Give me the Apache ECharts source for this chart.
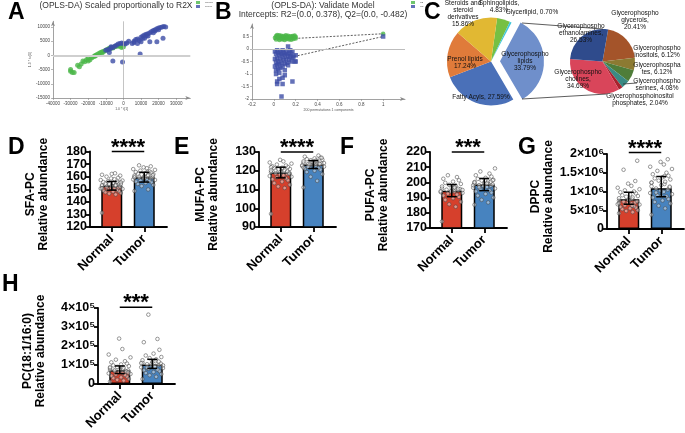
<!DOCTYPE html>
<html>
<head>
<meta charset="utf-8">
<title>Lipidomics: OPLS-DA, lipid classes and PC species</title>
<script src="https://cdn.jsdelivr.net/npm/echarts@6/dist/echarts.min.js"></script>
<style>
  body { margin: 0; background: #fff; }
  #main { width: 685px; height: 433px; }
</style>
</head>
<body>
<div id="main"></div>
<script>
var FONT = '"Liberation Sans", Arial, Helvetica, sans-serif';
var RED = '#d6402c', BLUE = '#4783bf';
var GREEN_PT = '#4bb749', BLUE_PT = '#3d4ea6';

// ---------- A: OPLS-DA score plot ----------
var oplsNormal = [[-30000,-5000],[-30000,-5600],[-29000,-6000],[-28000,-6000],[-26000,-3500],[-25000,-4000],
  [-24000,-3000],[-23000,-2000],[-22000,-2200],[-21000,-1500],[-20000,-1000],[-20000,-2000],[-19000,-1500],
  [-18000,-800],[-17000,-500],[-16000,0],[-16000,-200],[-15000,300],[-14000,700],[-13000,1000],[-12000,1300],
  [-12000,900],[-11000,1500],[-10000,1800],[-9000,2200],[-8000,2500],[-7500,2400],[-7000,2800],[-6000,2600],
  [-5000,3000],[-4000,3200],[-3000,3300],[-2000,3200],[-1000,2800],[0,3000]];
var oplsTumor = [[-10000,1800],[-9000,2000],[-8000,2200],[-8000,1000],[-7000,2600],[-7000,3000],[-6000,2800],
  [-5000,3200],[-4000,3600],[-3000,4000],[-2000,4200],[-1000,4400],[0,4200],[1000,4000],[2000,4400],[3000,5000],
  [5000,4200],[6000,5000],[6000,4500],[7000,5600],[8000,5800],[8000,4200],[9000,5200],[10000,6400],[10000,4800],
  [11000,6800],[11000,6000],[12000,7200],[12000,6000],[13000,7400],[13000,6800],[14000,7600],[14000,6800],
  [15000,8000],[15000,4800],[16000,8400],[17000,8800],[17000,8000],[18000,9000],[18000,8600],[19000,9400],
  [19000,4800],[20000,9600],[20000,9000],[21000,9800],[22000,10000],[22500,6000],[23000,10200],[24000,10000],
  [9500,500],[-6000,-2000],[-500,-2300]];

// ---------- B: permutation test ----------
var permR2 = [[0.01,0.45],[0.02,0.52],[0.02,0.38],[0.03,0.48],[0.03,0.56],[0.04,0.42],[0.04,0.5],[0.05,0.36],
  [0.05,0.55],[0.06,0.44],[0.06,0.5],[0.07,0.4],[0.07,0.53],[0.08,0.47],[0.08,0.38],[0.09,0.52],[0.09,0.43],
  [0.1,0.49],[0.1,0.36],[0.11,0.55],[0.11,0.44],[0.12,0.5],[0.12,0.4],[0.13,0.47],[0.13,0.53],[0.14,0.38],
  [0.14,0.45],[0.15,0.51],[0.15,0.42],[0.16,0.48],[0.16,0.37],[0.17,0.52],[0.17,0.44],[0.18,0.4],[0.18,0.5],
  [0.19,0.46],[0.19,0.54],[0.2,0.42],[0.2,0.49],[1,0.61]];
var permQ2 = [[0.01,-0.1],[0.01,-0.4],[0.01,-0.7],[0.02,-0.2],[0.02,-0.55],[0.02,-0.85],[0.03,-0.05],[0.03,-0.35],
  [0.03,-0.65],[0.04,-0.15],[0.04,-0.5],[0.04,-0.8],[0.05,-0.25],[0.05,-0.6],[0.06,-0.1],[0.06,-0.4],[0.06,-0.75],
  [0.07,-0.2],[0.07,-0.55],[0.08,-0.05],[0.08,-0.3],[0.08,-0.7],[0.09,-0.15],[0.09,-0.45],[0.1,-0.25],[0.1,-0.6],
  [0.1,-0.85],[0.11,-0.1],[0.11,-0.4],[0.12,-0.2],[0.12,-0.55],[0.13,0.1],[0.13,-0.3],[0.13,-0.65],[0.14,-0.15],
  [0.14,-0.45],[0.15,-0.05],[0.15,-0.3],[0.16,-0.2],[0.16,-0.5],[0.17,-0.1],[0.17,-0.35],[0.18,-0.3],[0.19,-0.5],
  [0.2,-0.25],[0.2,-0.5],[0.02,-1.0],[0.05,-0.95],[0.1,-1.05],[0.05,-1.2],[0.08,-1.15],[0.03,-1.3],[0.03,-1.4],
  [0.08,-1.4],[0.17,-1.3],[0.07,-1.9],[1,0.5]];
var r2Line = [[0, 0.378], [1, 0.61]];
var q2Line = [[0, -0.482], [1, 0.5]];

// ---------- C: lipid classes ----------
var classNames = ['Sphingolipids', 'Glycerlipid', 'Glycerophospho lipids', 'Fatty Acyls', 'Prenol lipids', 'Steroids and steroid derivatives'];
var classPct = [4.83, 0.70, 33.79, 27.59, 17.24, 15.86];
var classLabels = ['Sphingolipids,\n4.83%', 'Glycerlipid, 0.70%', 'Glycerophospho\nlipids\n33.79%',
  'Fatty Acyls, 27.59%', 'Prenol lipids\n17.24%', 'Steroids and\nsteroid\nderivatives\n15.86%'];
var classColors = ['#76c043', '#3ec6d9', '#6f8fcb', '#4a70b8', '#e07b3a', '#e1b833'];

var gplNames = ['glycerols', 'inositols', 'phosphates', 'serines', 'inositol phosphates', 'cholines', 'ethanolamines'];
var gplPct = [20.41, 6.12, 6.12, 4.08, 2.04, 34.69, 26.53];
var gplLabels = ['Glycerophospho\nglycerols,\n20.41%', 'Glycerophospho\ninositols, 6.12%', 'Glycerophospha\ntes, 6.12%',
  'Glycerophospho\nserines, 4.08%', 'Glycerophosphoinositol\nphosphates, 2.04%', 'Glycerophospho\ncholines,\n34.69%',
  'Glycerophospho\nethanolamines,\n26.53%'];
var gplColors = ['#a4542a', '#8c7a32', '#4f7d39', '#3a8a84', '#a8222d', '#d9455a', '#2f4b8c'];

// ---------- D-H: PC species ----------
var groups = ['Normal', 'Tumor'];

var sfaNormal = [131.2,145.8,146.5,147,147.6,148.2,148.5,149,149.4,149.9,150.3,150.6,151,151.2,151.5,151.8,152.1,
  152.4,152.7,153,153.3,153.6,153.9,154.2,154.6,155,155.3,155.7,156,156.4,156.9,157.3,158,158.6,159.2,160,160.8,
  161.5,162.2,162.7,150.8,152.9,154.4,155.5];
var sfaTumor = [148.6,149.8,152.5,153.4,154.2,155,155.6,156.1,156.6,157,157.4,157.8,158.2,158.5,158.9,159.2,159.6,
  159.9,160.2,160.6,160.9,161.3,161.6,162,162.4,162.8,163.2,163.7,164.2,164.8,165.4,166,166.7,167.4,168.2,169,
  161.1,159.4,158.7,163.9];
var sfaMean = [152.8, 159.6];
var sfaErr = [[149.3, 156.2], [155.7, 163.5]];
var sfaTicks = [120, 130, 140, 150, 160, 170, 180];

var mufaNormal = [97,110.8,111.6,112.5,113.4,114.2,114.9,115.5,116,116.4,116.8,117.2,117.6,118,118.3,118.6,118.9,
  119.2,119.5,119.8,120.1,120.4,120.7,121,121.3,121.6,122,122.4,122.8,123.3,123.8,124.4,125,125.8,119.6,120.2,
  118.4,121.9];
var mufaTumor = [111.1,114.6,116.8,118.2,119.3,120,120.6,121.1,121.5,121.9,122.2,122.5,122.8,123.1,123.4,123.6,
  123.9,124.2,124.4,124.7,125,125.3,125.6,125.9,126.2,126.6,127,127.5,128.1,123.2,124.1,122.9,125.4,124.6,123.7,
  122.1,126.9,121.7];
var mufaMean = [119.1, 123.3];
var mufaErr = [[116.2, 121.9], [121.2, 125.4]];
var mufaTicks = [90, 100, 110, 120, 130];

var pufaNormal = [174.3,184,185.6,187.2,188.5,189.6,190.5,191.3,192,192.6,193.1,193.6,194,194.4,194.8,195.2,195.6,
  196,196.4,196.8,197.3,197.8,198.4,199,199.7,200.5,201.4,202.4,203.5,204.7,195,194.2,196.6,193.9,195.8];
var pufaTumor = [185.3,186.8,188.5,190,191.3,192.4,193.3,194.1,194.8,195.4,196,196.5,197,197.4,197.8,198.2,198.6,
  199,199.4,199.8,200.2,200.7,201.2,201.7,202.3,203,203.8,204.7,205.8,207.2,209.2,198.1,199.3,197.6,200.5,196.8,
  201.4,199.9];
var pufaMean = [194.5, 198.6];
var pufaErr = [[190.6, 198.6], [194.6, 202.6]];
var pufaTicks = [170, 180, 190, 200, 210, 220];

var dppcNormal = [4.2e5,4.5e5,4.8e5,5.0e5,5.3e5,5.5e5,5.7e5,5.9e5,6.1e5,6.3e5,6.5e5,6.6e5,6.8e5,7.0e5,7.1e5,7.3e5,
  7.4e5,7.6e5,7.8e5,8.0e5,8.2e5,8.4e5,8.6e5,8.8e5,9.0e5,9.2e5,9.5e5,9.8e5,1.0e6,1.03e6,1.06e6,1.1e6,1.15e6,1.21e6,
  1.28e6,1.58e6,1.82e6,6.9e5,7.7e5,6.2e5];
var dppcTumor = [3.8e5,5.5e5,6.2e5,6.8e5,7.2e5,7.6e5,8.0e5,8.4e5,8.7e5,9.0e5,9.3e5,9.6e5,9.9e5,1.02e6,1.05e6,1.08e6,
  1.11e6,1.14e6,1.17e6,1.2e6,1.23e6,1.26e6,1.29e6,1.32e6,1.35e6,1.38e6,1.42e6,1.46e6,1.5e6,1.55e6,1.6e6,1.66e6,
  1.72e6,1.79e6,1.86e6,9.7e5,1.13e6,1.24e6,8.8e5,1.41e6];
var dppcMean = [7.96e5, 1.09e6];
var dppcErr = [[6.6e5, 9.8e5], [8.6e5, 1.4e6]];
var dppcTicks = [0, 5e5, 1e6, 1.5e6, 2e6];
var dppcTickLabels = ['0', '5×10⁵', '1×10⁶', '1.5×10⁶', '2×10⁶'];

var pcNormal = [1.2e4,1.8e4,2.2e4,2.7e4,3.1e4,3.5e4,3.9e4,4.3e4,4.7e4,5.0e4,5.3e4,5.6e4,5.9e4,6.2e4,6.5e4,6.8e4,
  7.1e4,7.4e4,7.7e4,8.0e4,8.3e4,8.6e4,9.0e4,9.4e4,9.8e4,1.03e5,1.08e5,1.14e5,1.2e5,1.28e5,1.4e5,1.55e5,1.84e5,
  2.39e5,6.6e4,7.2e4,6.0e4,8.8e4];
var pcTumor = [2.6e4,3.8e4,4.6e4,5.2e4,5.8e4,6.3e4,6.8e4,7.2e4,7.6e4,8.0e4,8.4e4,8.8e4,9.2e4,9.6e4,1.0e5,1.04e5,
  1.08e5,1.12e5,1.16e5,1.2e5,1.25e5,1.3e5,1.36e5,1.42e5,1.5e5,1.6e5,1.8e5,2.2e5,2.37e5,3.65e5,9.8e4,1.1e5,9.0e4,
  1.06e5,1.18e5,8.6e4];
var pcMean = [7.2e4, 1.03e5];
var pcErr = [[5.5e4, 9.5e4], [8.2e4, 1.3e5]];
var pcTicks = [0, 1e5, 2e5, 3e5, 4e5];
var pcTickLabels = ['0', '1×10⁵', '2×10⁵', '3×10⁵', '4×10⁵'];

var panels = [
  {name: 'SFA-PC', normal: sfaNormal, tumor: sfaTumor, mean: sfaMean, err: sfaErr, sig: '****', sigAt: 180,
   ticks: sfaTicks},
  {name: 'MUFA-PC', normal: mufaNormal, tumor: mufaTumor, mean: mufaMean, err: mufaErr, sig: '****', sigAt: 130,
   ticks: mufaTicks},
  {name: 'PUFA-PC', normal: pufaNormal, tumor: pufaTumor, mean: pufaMean, err: pufaErr, sig: '***', sigAt: 220,
   ticks: pufaTicks},
  {name: 'DPPC', normal: dppcNormal, tumor: dppcTumor, mean: dppcMean, err: dppcErr, sig: '****', sigAt: 2.04e6,
   ticks: dppcTicks, tickLabels: dppcTickLabels},
  {name: 'PC(18:1/16:0)', normal: pcNormal, tumor: pcTumor, mean: pcMean, err: pcErr, sig: '***', sigAt: 4.04e5,
   ticks: pcTicks, tickLabels: pcTickLabels}
];

// layout of the bar panels (pixels)
var panelLayout = [
  {left: 90, top: 151.5, height: 75.5, nameGap: 40},
  {left: 259, top: 152, height: 75, nameGap: 39},
  {left: 430, top: 152, height: 76, nameGap: 40},
  {left: 607, top: 154, height: 75, nameGap: 52},
  {left: 98, top: 308, height: 76, nameGap: 51}
];
// horizontal spread of the dots over a bar
var spread = [-0.3, 0.12, -0.08, 0.28, -0.2, 0.04, 0.22, -0.26, 0.16, -0.12, 0.33, -0.34, 0.08, -0.02, 0.2,
  -0.16, 0.26, -0.3, 0.0, 0.1];

var grids = [], xAxes = [], yAxes = [], series = [];

function plainNum(v) { return String(Math.round(v * 1000) / 1000); }

function tinyAxis(gi, min, max, interval, name, gap) {
  return {
    type: 'value', gridIndex: gi, min: min, max: max, interval: interval,
    name: name, nameLocation: 'middle', nameGap: gap,
    nameTextStyle: {fontSize: 3.5, color: '#555', fontFamily: FONT},
    axisLine: {show: true, onZero: false, symbol: ['none', 'arrow'], symbolSize: [3, 5],
      lineStyle: {color: '#8a8a8a', width: 0.8}},
    axisTick: {show: true, length: 2, lineStyle: {color: '#8a8a8a', width: 0.6}},
    axisLabel: {fontSize: 4.5, color: '#444', margin: 3, fontFamily: FONT, showMaxLabel: false,
      formatter: plainNum},
    splitLine: {show: false}
  };
}

// A
grids.push({left: 53, top: 21.3, width: 137.3, height: 76.7, outerBoundsMode: 'none'});
xAxes.push(tinyAxis(0, -40000, 38000, 10000, '1.0 * t[1]', 7));
yAxes.push(Object.assign(tinyAxis(0, -15000, 12000, 5000, '1.0 * to[1]', 16), {nameRotate: 90}));
series.push({
  name: 'Normal', type: 'scatter', xAxisIndex: 0, yAxisIndex: 0, data: oplsNormal, symbolSize: 5,
  itemStyle: {color: GREEN_PT}, z: 3,
  markLine: {silent: true, symbol: 'none', label: {show: false}, animation: false,
    data: [{yAxis: 0, lineStyle: {color: '#cfcfcf', width: 2, type: 'solid'}},
           {xAxis: 0, lineStyle: {color: '#b5b5b5', width: 0.8, type: 'solid'}}]}
});
series.push({name: 'Tumor', type: 'scatter', xAxisIndex: 0, yAxisIndex: 0, data: oplsTumor, symbolSize: 5,
  itemStyle: {color: BLUE_PT}, z: 3});

// B
grids.push({left: 252, top: 24, width: 153, height: 75, outerBoundsMode: 'none'});
xAxes.push(tinyAxis(1, -0.2, 1.2, 0.2, '200 permutations 1 components', 7));
yAxes.push(tinyAxis(1, -2, 1, 0.5, '', 10));
series.push({
  name: 'R2', type: 'scatter', xAxisIndex: 1, yAxisIndex: 1, data: permR2, symbol: 'circle', symbolSize: 4.5,
  itemStyle: {color: GREEN_PT}, z: 3,
  markLine: {silent: true, symbol: 'none', label: {show: false}, animation: false,
    data: [{yAxis: 0, lineStyle: {color: '#bdbdbd', width: 1, type: 'solid'}}]}
});
series.push({name: 'Q2', type: 'scatter', xAxisIndex: 1, yAxisIndex: 1, data: permQ2, symbol: 'rect', symbolSize: 4.5,
  itemStyle: {color: BLUE_PT}, z: 3});
[r2Line, q2Line].forEach(function (d) {
  series.push({type: 'line', xAxisIndex: 1, yAxisIndex: 1, data: d, symbol: 'none', z: 2,
    lineStyle: {color: '#333', width: 0.8, type: [2, 1.5]}});
});

// D-H
function errorBar(params, api) {
  var x = api.value(0);
  var hi = api.coord([x, api.value(2)]);
  var lo = api.coord([x, api.value(1)]);
  var cap = 5, st = {stroke: '#000', lineWidth: 1.5};
  return {type: 'group', children: [
    {type: 'line', shape: {x1: hi[0], y1: hi[1], x2: lo[0], y2: lo[1]}, style: st},
    {type: 'line', shape: {x1: hi[0] - cap, y1: hi[1], x2: hi[0] + cap, y2: hi[1]}, style: st},
    {type: 'line', shape: {x1: lo[0] - cap, y1: lo[1], x2: lo[0] + cap, y2: lo[1]}, style: st}
  ]};
}

function sigMark(text) {
  return function (params, api) {
    var a = api.coord([api.value(0), api.value(2)]);
    var b = api.coord([api.value(1), api.value(2)]);
    return {type: 'group', children: [
      {type: 'line', shape: {x1: a[0], y1: a[1], x2: b[0], y2: b[1]}, style: {stroke: '#000', lineWidth: 1.5}},
      {type: 'text', x: (a[0] + b[0]) / 2, y: a[1] - 4,
       style: {text: text, fill: '#000', fontSize: 22, fontWeight: 'bold', fontFamily: FONT,
               align: 'center', verticalAlign: 'middle', textAlign: 'center', textVerticalAlign: 'middle'}}
    ]};
  };
}

function dots(values, g) {
  return values.map(function (v, i) { return [g + spread[i % spread.length], v]; });
}

function tickLabeler(p) {
  return function (v) {
    for (var i = 0; i < p.ticks.length; i++) {
      if (Math.abs(p.ticks[i] - v) < 1e-6 * (Math.abs(v) + 1)) return p.tickLabels ? p.tickLabels[i] : String(p.ticks[i]);
    }
    return '';
  };
}

panels.forEach(function (p, k) {
  var lay = panelLayout[k];
  var gi = grids.length;
  var yMin = p.ticks[0], yMax = p.ticks[p.ticks.length - 1], yStep = p.ticks[1] - p.ticks[0];
  // two label layers (every other tick) so that tight ticks are not hidden by overlap checks
  var evenTicks = p.ticks.filter(function (t, i) { return i % 2 === 0; });
  var oddTicks = p.ticks.filter(function (t, i) { return i % 2 === 1; });
  var labelStyle = {fontSize: 12.5, fontWeight: 'bold', color: '#000', margin: 3, fontFamily: FONT,
    showMinLabel: true, showMaxLabel: true, hideOverlap: false, formatter: tickLabeler(p)};

  grids.push({left: lay.left, top: lay.top, width: 77, height: lay.height, outerBoundsMode: 'none'});
  xAxes.push({
    type: 'value', gridIndex: gi, min: -0.67, max: 1.7,
    axisLine: {show: true, onZero: false, lineStyle: {color: '#000', width: 1.8}},
    axisTick: {show: true, length: 5, customValues: [0, 1], lineStyle: {color: '#000', width: 1.8}},
    axisLabel: {customValues: [0, 1], rotate: 45, margin: 10, fontSize: 13, fontWeight: 'bold', color: '#000',
      fontFamily: FONT, formatter: function (v) { return groups[Math.round(v)]; }},
    splitLine: {show: false}
  });
  var yi = yAxes.length;
  yAxes.push({
    type: 'value', gridIndex: gi, min: yMin, max: yMax, interval: yStep, position: 'left',
    name: p.name + '\nRelative abundance', nameLocation: 'middle', nameGap: lay.nameGap, nameRotate: 90,
    nameMoveOverlap: false,
    nameTextStyle: {fontSize: 12, fontWeight: 'bold', color: '#000', lineHeight: 13, fontFamily: FONT,
      padding: [0, 10, 0, 0]},
    axisLine: {show: true, onZero: false, lineStyle: {color: '#000', width: 1.8}},
    axisTick: {show: true, length: 4, lineStyle: {color: '#000', width: 1.8}},
    axisLabel: Object.assign({customValues: evenTicks}, labelStyle),
    splitLine: {show: false}
  });
  yAxes.push({
    type: 'value', gridIndex: gi, min: yMin, max: yMax, interval: yStep, position: 'left', offset: 0,
    axisLine: {show: false}, axisTick: {show: false},
    axisLabel: Object.assign({customValues: oddTicks}, labelStyle),
    splitLine: {show: false}
  });
  series.push({
    type: 'bar', xAxisIndex: gi, yAxisIndex: yi, barWidth: 21, z: 2, silent: true,
    itemStyle: {borderColor: '#000', borderWidth: 1.5},
    data: [{value: [0, p.mean[0]], itemStyle: {color: RED}}, {value: [1, p.mean[1]], itemStyle: {color: BLUE}}]
  });
  [p.normal, p.tumor].forEach(function (vals, g) {
    series.push({
      type: 'scatter', xAxisIndex: gi, yAxisIndex: yi, data: dots(vals, g), symbol: 'circle', symbolSize: 3.6,
      z: 3, silent: true,
      itemStyle: {color: 'rgba(255,255,255,0.55)', borderColor: '#4a4a4a', borderWidth: 0.7}
    });
  });
  series.push({
    type: 'custom', xAxisIndex: gi, yAxisIndex: yi, renderItem: errorBar, z: 4, silent: true,
    encode: {x: 0, y: [1, 2]},
    data: [[0, p.err[0][0], p.err[0][1]], [1, p.err[1][0], p.err[1][1]]]
  });
  series.push({
    type: 'custom', xAxisIndex: gi, yAxisIndex: yi, renderItem: sigMark(p.sig), z: 4, silent: true,
    encode: {x: [0, 1], y: 2},
    data: [[0, 1, p.sigAt]]
  });
});

// C: pies (label anchor points in px)
var classLabelPos = [[499, 7], [532, 12.5], [523, 58.5], [481, 97], [465, 63], [463, 13.5]];
var gplLabelPos = [[635, 20], [657, 52], [657, 68.5], [657, 85], [640, 100], [578, 79], [581, 33.5]];

function pieLabelLayout(pos) {
  return function (params) {
    var q = pos[params.dataIndex];
    return {x: q[0], y: q[1], align: 'center', verticalAlign: 'middle'};
  };
}

series.push({
  type: 'pie', center: [491, 61.5], radius: 44, startAngle: 82, clockwise: true,
  selectedMode: 'single', selectedOffset: 9, avoidLabelOverlap: false, silent: true,
  itemStyle: {borderWidth: 0},
  data: classNames.map(function (n, i) {
    return {name: n, value: classPct[i], selected: i === 2, itemStyle: {color: classColors[i]}};
  }),
  label: {show: true, position: 'inside', fontSize: 6.5, lineHeight: 7, color: '#111', fontFamily: FONT,
    formatter: function (p) { return classLabels[p.dataIndex]; }},
  labelLine: {show: false},
  labelLayout: pieLabelLayout(classLabelPos),
  emphasis: {disabled: true}
});
series.push({
  type: 'pie', center: [602.5, 61.5], radius: 32.5, startAngle: 80, clockwise: true,
  avoidLabelOverlap: false, silent: true,
  itemStyle: {borderWidth: 0},
  data: gplNames.map(function (n, i) {
    return {name: n, value: gplPct[i], itemStyle: {color: gplColors[i]}};
  }),
  label: {show: true, position: 'inside', fontSize: 6.5, lineHeight: 7, color: '#111', fontFamily: FONT,
    formatter: function (p) { return gplLabels[p.dataIndex]; }},
  labelLine: {show: false},
  labelLayout: pieLabelLayout(gplLabelPos),
  emphasis: {disabled: true}
});

function letter(t, x, y) {
  return {type: 'text', x: x, y: y, z: 10,
    style: {text: t, fill: '#000', fontSize: 23, fontWeight: 'bold', fontFamily: FONT,
            verticalAlign: 'top', textVerticalAlign: 'top'}};
}
function smallText(t, x, y) {
  return {type: 'text', x: x, y: y, z: 10,
    style: {text: t, fill: '#333', fontSize: 8.5, fontFamily: FONT, align: 'center', textAlign: 'center',
            verticalAlign: 'middle', textVerticalAlign: 'middle'}};
}
function seg(x1, y1, x2, y2) {
  return {type: 'line', z: 10, shape: {x1: x1, y1: y1, x2: x2, y2: y2}, style: {stroke: '#333', lineWidth: 0.8}};
}

var option = {
  animation: false,
  backgroundColor: '#fff',
  textStyle: {fontFamily: FONT},
  legend: [
    {data: ['Normal', 'Tumor'], left: 196, top: 1, orient: 'vertical', icon: 'rect', itemWidth: 4, itemHeight: 3,
     itemGap: 1, padding: 0, textStyle: {fontSize: 2.5, color: '#555'}, selectedMode: false},
    {data: ['R2', 'Q2'], left: 411, top: 1, orient: 'vertical', icon: 'rect', itemWidth: 4, itemHeight: 3,
     itemGap: 1, padding: 0, textStyle: {fontSize: 2.5, color: '#555'}, selectedMode: false}
  ],
  grid: grids,
  xAxis: xAxes,
  yAxis: yAxes,
  series: series,
  graphic: [
    letter('A', 8, 1), letter('B', 215, 1), letter('C', 424, 1),
    letter('D', 8, 136), letter('E', 174, 136), letter('F', 340, 136), letter('G', 518, 136), letter('H', 2, 273),
    smallText('(OPLS-DA) Scaled proportionally to R2X', 116, 6),
    smallText('(OPLS-DA): Validate Model', 323, 5.5),
    smallText('Intercepts: R2=(0.0, 0.378), Q2=(0.0, -0.482)', 323, 15),
    seg(522, 23, 603, 29), seg(522, 99, 607, 94), seg(623, 84, 637, 83)
  ]
};

var chart = echarts.init(document.getElementById('main'));
chart.setOption(option);
</script>
</body>
</html>
